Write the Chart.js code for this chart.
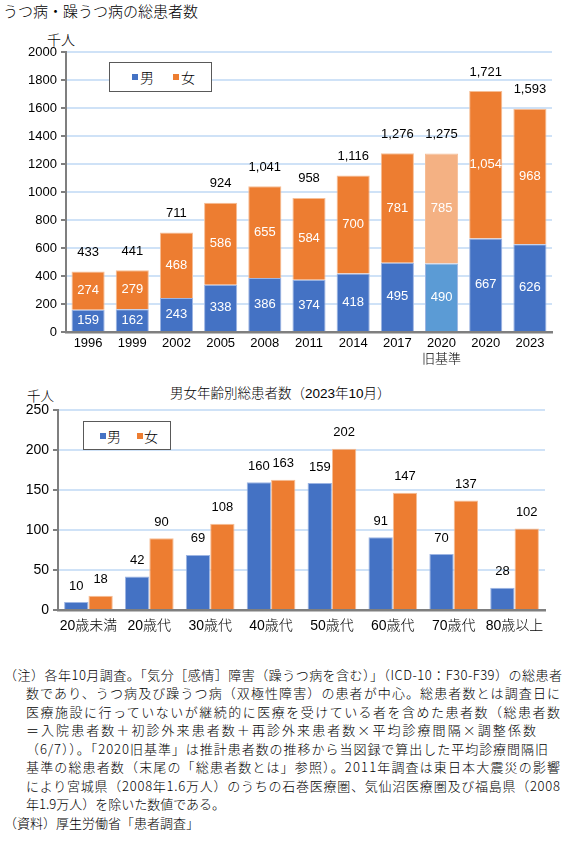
<!DOCTYPE html>
<html lang="ja">
<head>
<meta charset="utf-8">
<script src="https://cdn.jsdelivr.net/npm/chart.js@4.4.1/dist/chart.umd.min.js"></script>
<style>
  body { margin: 0; background: #fff; font-family: 'Liberation Sans', 'Noto Sans CJK JP', sans-serif; font-weight: 300; color: #000; }
  #page { position: relative; width: 572px; height: 844px; overflow: hidden; }
  .abs { position: absolute; white-space: nowrap; line-height: 1; }
  .legend { position: absolute; border: 1.5px solid #595959; box-sizing: border-box; background: #fff; font-size: 14px; }
  .legend span { position: absolute; top: 50%; transform: translateY(-50%); }
  .sq { width: 6px; height: 6px; }
  .note { position: absolute; white-space: nowrap; font-size: 13px; line-height: 1; font-family: 'Noto Sans CJK JP', sans-serif; }
  canvas { position: absolute; left: 0; }
</style>
</head>
<body>
<div id="page">
  <div class="abs" style="left:3px; top:4px; font-size:15px;">うつ病・躁うつ病の総患者数</div>
  <div class="abs" style="left:47px; top:33px; font-size:14px;">千人</div>
  <canvas id="topChart" width="572" height="332" style="top:40px;"></canvas>
  <div class="legend" style="left:109px; top:62px; width:103px; height:30px;">
    <span class="sq" style="left:22px; background:#4472C4;"></span>
    <span style="left:30px;">男</span>
    <span class="sq" style="left:63px; background:#ED7D31;"></span>
    <span style="left:71px;">女</span>
  </div>

  <div class="abs" style="left:170px; top:387px; font-size:13.5px;">男女年齢別総患者数（2023年10月）</div>
  <div class="abs" style="left:27px; top:390px; font-size:13.5px;">千人</div>
  <canvas id="ageChart" width="572" height="244" style="top:398px;"></canvas>
  <div class="legend" style="left:83px; top:421px; width:88px; height:29px;">
    <span class="sq" style="left:16px; background:#4472C4;"></span>
    <span style="left:23px;">男</span>
    <span class="sq" style="left:53px; background:#ED7D31;"></span>
    <span style="left:60px;">女</span>
  </div>

  <div class="note" data-w="558" style="left:4px; top:668px;">（注）各年10月調査。「気分［感情］障害（躁うつ病を含む）」（ICD-10：F30-F39）の総患者</div>
  <div class="note" data-w="534" style="left:26px; top:686px;">数であり、うつ病及び躁うつ病（双極性障害）の患者が中心。総患者数とは調査日に</div>
  <div class="note" data-w="534" style="left:26px; top:705px;">医療施設に行っていないが継続的に医療を受けている者を含めた患者数（総患者数</div>
  <div class="note" data-w="510" style="left:26px; top:723px;">＝入院患者数＋初診外来患者数＋再診外来患者数×平均診療間隔×調整係数</div>
  <div class="note" data-w="522" style="left:26px; top:742px;">（6/7））。「2020旧基準」は推計患者数の推移から当図録で算出した平均診療間隔旧</div>
  <div class="note" data-w="534" style="left:26px; top:760px;">基準の総患者数（末尾の「総患者数とは」参照）。2011年調査は東日本大震災の影響</div>
  <div class="note" data-w="534" style="left:26px; top:779px;">により宮城県（2008年1.6万人）のうちの石巻医療圏、気仙沼医療圏及び福島県（2008</div>
  <div class="note" style="left:26px; top:797px;">年1.9万人）を除いた数値である。</div>
  <div class="note" style="left:4px; top:816px;">（資料）厚生労働省「患者調査」</div>
</div>

<script>
// top chart: total patients by survey year (thousand people)
const years = ['1996', '1999', '2002', '2005', '2008', '2011', '2014', '2017', ['2020', '旧基準'], '2020', '2023'];
const maleByYear = [159, 162, 243, 338, 386, 374, 418, 495, 490, 667, 626];
const femaleByYear = [274, 279, 468, 586, 655, 584, 700, 781, 785, 1054, 968];
const totalByYear = [433, 441, 711, 924, 1041, 958, 1116, 1276, 1275, 1721, 1593];

// bottom chart: by age group, Oct 2023
const ageGroups = ['20歳未満', '20歳代', '30歳代', '40歳代', '50歳代', '60歳代', '70歳代', '80歳以上'];
const maleByAge = [10, 42, 69, 160, 159, 91, 70, 28];
const femaleByAge = [18, 90, 108, 163, 202, 147, 137, 102];

const BLUE = '#4472C4';
const ORANGE = '#ED7D31';
const OLD_IDX = 8; // "2020 旧基準" bar gets lighter colours

Chart.defaults.font.family = "'Liberation Sans', 'Noto Sans CJK JP', sans-serif";
Chart.defaults.font.weight = '300';
Chart.defaults.color = '#000';

function fmt(v) {
  return v.toLocaleString('en-US');
}

// draws the numbers on / above the bars
const valueLabels = {
  id: 'valueLabels',
  afterDatasetsDraw(chart, args, opts) {
    const ctx = chart.ctx;
    ctx.save();
    ctx.textAlign = 'center';
    ctx.textBaseline = 'middle';
    ctx.font = '13px ' + Chart.defaults.font.family;
    chart.data.datasets.forEach((ds, i) => {
      const meta = chart.getDatasetMeta(i);
      meta.data.forEach((bar, j) => {
        const v = ds.data[j];
        if (opts.inside) {
          ctx.fillStyle = '#fff';
          ctx.fillText(fmt(v), bar.x, (bar.y + bar.base) / 2);
        } else {
          ctx.fillStyle = '#000';
          ctx.fillText(fmt(v), bar.x, bar.y - opts.offset);
        }
      });
    });
    if (opts.totals) {
      const meta = chart.getDatasetMeta(chart.data.datasets.length - 1);
      ctx.fillStyle = '#000';
      meta.data.forEach((bar, j) => {
        ctx.fillText(fmt(opts.totals[j]), bar.x, bar.y - opts.offset);
      });
    }
    ctx.restore();
  }
};

const gridStyle = { color: '#CFE2F7', lineWidth: 2, tickColor: '#7F7F7F', tickLength: 5 };

new Chart(document.getElementById('topChart'), {
  type: 'bar',
  data: {
    labels: years,
    datasets: [
      {
        label: '男',
        data: maleByYear,
        backgroundColor: maleByYear.map((v, i) => i === OLD_IDX ? '#5B9BD5' : BLUE),
        borderColor: '#9DB5E3',
        borderWidth: 1
      },
      {
        label: '女',
        data: femaleByYear,
        backgroundColor: femaleByYear.map((v, i) => i === OLD_IDX ? '#F4B183' : ORANGE),
        borderColor: '#F6BE96',
        borderWidth: 1
      }
    ]
  },
  options: {
    responsive: false,
    animation: false,
    layout: { padding: { top: 12, right: 20 } },
    categoryPercentage: 0.75,
    barPercentage: 1,
    plugins: {
      legend: { display: false },
      tooltip: { enabled: false },
      valueLabels: { inside: true, totals: totalByYear, offset: 19 }
    },
    scales: {
      x: {
        stacked: true,
        grid: { color: 'transparent', drawTicks: false },
        border: { color: '#7F7F7F', width: 2.5 },
        ticks: { font: { size: 13 }, padding: 4, maxRotation: 0, autoSkip: false },
        afterFit(scale) { scale.height = 40; }
      },
      y: {
        stacked: true,
        min: 0,
        max: 2000,
        grid: gridStyle,
        border: { color: '#7F7F7F', width: 2 },
        ticks: { stepSize: 200, font: { size: 13 }, padding: 4, callback: v => String(v) },
        afterFit(scale) { scale.width = 66; }
      }
    }
  },
  plugins: [valueLabels]
});

new Chart(document.getElementById('ageChart'), {
  type: 'bar',
  data: {
    labels: ageGroups,
    datasets: [
      { label: '男', data: maleByAge, backgroundColor: BLUE, borderColor: '#9DB5E3', borderWidth: 1 },
      { label: '女', data: femaleByAge, backgroundColor: ORANGE, borderColor: '#F6BE96', borderWidth: 1 }
    ]
  },
  options: {
    responsive: false,
    animation: false,
    layout: { padding: { top: 11, right: 27 } },
    categoryPercentage: 0.8,
    barPercentage: 1,
    plugins: {
      legend: { display: false },
      tooltip: { enabled: false },
      valueLabels: { inside: false, offset: 16 }
    },
    scales: {
      x: {
        grid: { color: 'transparent', drawTicks: false },
        border: { color: '#7F7F7F', width: 2.5 },
        ticks: { font: { size: 14 }, padding: 8, maxRotation: 0, autoSkip: false },
        afterFit(scale) { scale.height = 32; }
      },
      y: {
        min: 0,
        max: 250,
        grid: gridStyle,
        border: { color: '#7F7F7F', width: 2 },
        ticks: { stepSize: 50, font: { size: 14 }, padding: 4 },
        afterFit(scale) { scale.width = 58; }
      }
    }
  },
  plugins: [valueLabels]
});

// stretch the note lines to the width they have in the original
document.querySelectorAll('.note[data-w]').forEach(el => {
  const target = +el.dataset.w;
  const natural = el.getBoundingClientRect().width;
  const n = el.textContent.length;
  el.style.letterSpacing = ((target - natural) / (n - 1)) + 'px';
});
</script>
</body>
</html>
